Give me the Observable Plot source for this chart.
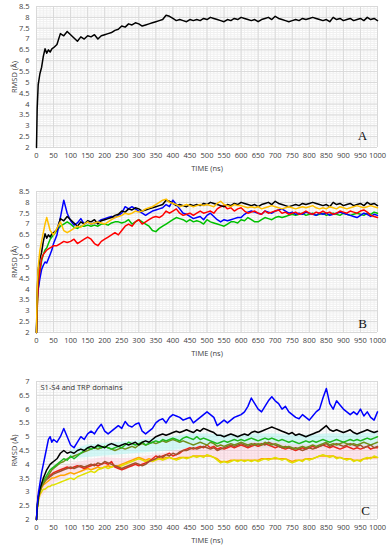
<!DOCTYPE html>
<html><head><meta charset="utf-8">
<script src="https://cdn.jsdelivr.net/npm/d3@7"></script>
<script src="https://cdn.jsdelivr.net/npm/@observablehq/plot@0.6"></script>
<style>body{margin:0;background:#fff;} #chart svg{display:block;}</style>
</head><body><div id="chart"></div><script>
// shared time axis (ns)
const time = [
  0,2,5,10,15,20,25,30,35,40,
  45,50,60,70,80,90,100,110,120,130,
  140,150,160,170,180,190,200,210,220,230,
  240,250,260,270,280,290,300,310,320,330,
  340,350,360,370,380,390,400,410,420,430,
  440,450,460,470,480,490,500,510,520,530,
  540,550,560,570,580,590,600,610,620,630,
  640,650,660,670,680,690,700,710,720,730,
  740,750,760,770,780,790,800,810,820,830,
  840,850,860,870,880,890,900,910,920,930,
  940,950,960,970,980,990,1000];

const xTicks = [0,50,100,150,200,250,300,350,400,450,500,550,600,650,700,750,800,850,900,950,1000];
const yTicksAB = [2,2.5,3,3.5,4,4.5,5,5.5,6,6.5,7,7.5,8,8.5];
const yTicksC = [2,2.5,3,3.5,4,4.5,5,5.5,6,6.5,7];

// Panel A
const aBlack = [
  2.0,3.8,4.9,5.4,5.7,6.2,6.55,6.35,6.5,6.4,
  6.55,6.6,6.75,7.25,7.15,7.35,7.2,7.05,6.9,7.1,
  7.0,7.15,7.1,7.2,7.0,7.15,7.2,7.25,7.3,7.4,
  7.45,7.6,7.55,7.7,7.65,7.75,7.7,7.6,7.65,7.7,
  7.75,7.8,7.85,7.9,8.1,8.05,7.95,7.85,7.9,7.85,
  7.8,7.9,7.85,7.9,7.85,7.95,7.9,8.0,7.95,7.9,
  7.85,7.8,7.9,7.85,7.95,7.9,8.0,7.95,7.9,7.85,
  7.9,7.8,7.9,7.95,8.0,7.9,8.05,7.95,7.9,7.85,
  7.8,7.85,7.9,7.85,7.95,7.9,7.95,8.0,7.95,7.9,
  7.85,7.9,7.8,8.0,7.9,7.95,7.85,7.9,7.95,7.85,
  7.9,7.95,7.85,8.0,7.9,7.95,7.85];

// Panel B
const bBlack = aBlack;
const bBlue = [
  2.0,3.5,4.0,4.5,4.9,5.1,5.25,5.2,5.4,5.6,
  5.8,6.1,6.5,7.3,8.1,7.5,7.15,6.95,7.05,7.25,
  7.0,7.1,7.0,7.05,7.1,7.2,7.25,7.3,7.35,7.3,
  7.4,7.5,7.8,7.7,7.8,7.7,7.6,7.5,7.4,7.5,
  7.6,7.65,7.7,7.75,7.9,7.8,8.1,7.9,7.7,7.5,
  7.45,7.35,7.25,7.3,7.35,7.2,7.4,7.5,7.35,7.2,
  7.1,7.2,7.15,7.2,7.25,7.3,7.3,7.45,7.55,7.6,
  7.55,7.5,7.45,7.6,7.55,7.5,7.6,7.65,7.7,7.6,
  7.5,7.55,7.45,7.5,7.45,7.55,7.5,7.45,7.4,7.5,
  7.45,7.5,7.4,7.45,7.5,7.55,7.5,7.45,7.4,7.35,
  7.3,7.4,7.5,7.45,7.35,7.45,7.4];
const bGreen = [
  2.0,3.2,4.0,4.8,5.3,5.6,5.8,5.9,6.1,6.3,
  6.4,6.5,6.7,6.9,7.0,7.1,7.0,6.85,6.8,6.9,
  6.9,6.95,6.9,6.95,6.9,7.0,7.0,6.95,7.05,7.1,
  7.1,7.05,7.1,7.2,7.0,7.1,7.2,7.1,7.0,6.9,
  6.7,6.65,6.8,6.9,7.0,7.1,7.2,7.3,7.25,7.2,
  7.1,7.2,7.1,7.15,7.1,7.0,7.2,7.1,7.05,7.0,
  6.95,6.9,7.0,7.1,7.1,7.05,7.2,7.15,7.3,7.2,
  7.1,7.1,7.2,7.3,7.25,7.2,7.3,7.35,7.3,7.35,
  7.4,7.45,7.4,7.45,7.5,7.4,7.45,7.5,7.4,7.45,
  7.5,7.4,7.45,7.5,7.45,7.4,7.5,7.45,7.4,7.45,
  7.5,7.45,7.4,7.5,7.45,7.55,7.5];
const bRed = [
  2.0,3.0,4.2,4.9,5.4,5.6,5.7,5.8,5.85,5.9,
  5.95,6.0,6.0,6.1,6.2,6.15,6.2,6.3,6.1,6.2,
  6.3,6.4,6.3,6.1,6.0,6.2,6.3,6.4,6.5,6.6,
  6.5,6.7,6.9,7.0,6.9,7.1,7.2,7.0,7.1,7.2,
  7.3,7.35,7.3,7.4,7.6,7.5,7.6,7.7,7.5,7.4,
  7.45,7.5,7.4,7.5,7.6,7.5,7.55,7.6,7.5,7.7,
  7.8,7.85,7.7,7.75,7.6,7.7,7.75,7.6,7.5,7.55,
  7.6,7.5,7.45,7.6,7.5,7.55,7.6,7.65,7.5,7.55,
  7.45,7.5,7.55,7.45,7.5,7.6,7.5,7.45,7.55,7.5,
  7.6,7.5,7.55,7.45,7.5,7.6,7.55,7.5,7.6,7.55,
  7.5,7.6,7.65,7.55,7.4,7.35,7.3];
const bGold = [
  2.0,4.0,5.0,5.8,6.2,6.6,7.0,7.3,7.0,6.7,
  6.6,6.5,6.8,7.1,6.7,6.6,6.7,6.8,6.9,6.85,
  7.0,7.1,7.0,7.05,7.1,7.05,7.0,7.1,7.2,7.3,
  7.35,7.4,7.5,7.45,7.5,7.6,7.55,7.6,7.7,7.75,
  7.8,7.9,8.0,8.1,8.15,8.0,7.95,7.9,7.8,7.85,
  7.9,7.85,7.8,7.85,7.9,7.85,7.9,7.85,7.8,7.95,
  8.05,7.9,7.85,7.8,7.9,7.85,7.85,7.8,7.75,7.8,
  7.75,7.8,7.7,7.75,7.8,7.85,7.8,7.75,7.7,7.75,
  7.8,7.75,7.7,7.75,7.8,7.75,7.8,7.85,7.75,7.7,
  7.75,7.7,7.8,7.75,7.7,7.8,7.75,7.7,7.75,7.8,
  7.85,7.8,7.75,7.8,7.85,7.8,7.75];

// Panel C
const cBlue = [
  2.0,2.5,2.9,3.3,3.7,4.0,4.3,4.6,4.9,5.0,
  4.8,4.9,4.8,5.0,5.3,5.0,4.7,4.6,4.8,5.0,
  4.9,5.1,5.2,5.1,5.3,5.45,5.2,5.1,5.2,5.3,
  5.4,5.3,5.55,5.4,5.35,5.45,5.5,5.2,5.1,5.2,
  5.3,5.5,5.6,5.65,5.5,5.7,5.8,5.75,5.7,5.6,
  5.65,5.7,5.5,5.6,5.7,5.8,5.9,5.8,5.7,5.4,
  5.5,5.6,5.5,5.6,5.7,5.75,5.8,5.9,6.1,6.4,
  6.2,6.0,5.9,6.1,6.3,6.45,6.3,6.2,6.0,6.1,
  5.9,5.8,5.7,5.65,5.8,5.7,5.6,5.75,5.9,6.0,
  6.4,6.75,6.2,6.0,6.3,6.15,6.0,5.9,5.8,5.9,
  5.8,6.0,5.75,5.9,5.7,5.6,5.9];
const cBlack = [
  2.0,2.4,2.8,3.1,3.3,3.5,3.65,3.8,3.9,4.0,
  4.05,4.1,4.2,4.4,4.5,4.4,4.45,4.4,4.5,4.55,
  4.5,4.6,4.65,4.6,4.7,4.65,4.6,4.7,4.75,4.7,
  4.65,4.7,4.75,4.7,4.75,4.8,4.7,4.8,4.85,4.8,
  4.9,5.0,5.05,5.1,5.05,5.1,5.15,5.2,5.15,5.2,
  5.25,5.2,5.15,5.25,5.2,5.3,5.25,5.2,5.15,5.05,
  5.05,5.0,5.05,5.1,5.05,5.0,5.05,5.1,5.05,5.15,
  5.2,5.15,5.2,5.25,5.3,5.35,5.3,5.25,5.2,5.15,
  5.1,5.15,5.05,5.1,5.05,5.0,5.05,5.1,5.15,5.2,
  5.3,5.4,5.25,5.2,5.25,5.2,5.15,5.2,5.25,5.15,
  5.1,5.15,5.2,5.25,5.2,5.15,5.2];
const cGreen = [
  2.0,2.4,2.8,3.1,3.3,3.4,3.5,3.6,3.7,3.8,
  3.85,3.9,4.0,4.1,4.2,4.15,4.3,4.2,4.3,4.4,
  4.5,4.6,4.55,4.6,4.65,4.6,4.65,4.6,4.55,4.6,
  4.65,4.6,4.7,4.8,4.75,4.7,4.75,4.8,4.7,4.75,
  4.8,4.85,4.8,4.9,4.85,4.9,4.95,4.9,4.85,4.95,
  5.0,4.95,4.9,5.0,4.9,4.95,4.9,4.85,4.8,4.75,
  4.8,4.85,4.8,4.85,4.9,4.85,4.9,4.85,4.9,4.95,
  4.9,4.85,4.9,4.95,4.9,4.95,4.9,4.85,4.9,4.85,
  4.8,4.85,4.8,4.75,4.8,4.85,4.8,4.85,4.8,4.85,
  4.9,4.85,4.8,4.85,4.9,4.85,4.8,4.85,4.9,4.85,
  4.9,4.85,4.9,4.95,4.9,4.95,5.0];
const cOlive = [
  2.0,2.4,2.8,3.0,3.2,3.3,3.4,3.5,3.6,3.7,
  3.8,3.85,3.95,4.05,4.1,4.2,4.25,4.3,4.35,4.4,
  4.45,4.5,4.55,4.6,4.55,4.6,4.65,4.6,4.55,4.5,
  4.55,4.6,4.55,4.6,4.65,4.6,4.7,4.75,4.7,4.75,
  4.8,4.75,4.8,4.85,4.8,4.85,4.9,4.85,4.8,4.85,
  4.8,4.75,4.7,4.75,4.8,4.75,4.7,4.8,4.75,4.65,
  4.7,4.65,4.7,4.75,4.7,4.75,4.8,4.75,4.7,4.75,
  4.7,4.75,4.7,4.8,4.75,4.7,4.75,4.7,4.65,4.6,
  4.65,4.6,4.55,4.6,4.65,4.6,4.65,4.7,4.65,4.7,
  4.75,4.8,4.7,4.75,4.7,4.75,4.8,4.75,4.7,4.75,
  4.7,4.75,4.8,4.75,4.7,4.75,4.8];
const cRed = [
  2.0,2.4,2.7,3.0,3.2,3.3,3.4,3.5,3.55,3.6,
  3.65,3.7,3.75,3.8,3.85,3.9,3.85,3.9,3.95,3.9,
  3.85,3.9,3.95,4.0,3.95,4.0,4.05,4.0,4.1,3.9,
  3.85,3.8,3.85,3.9,3.95,4.0,3.95,4.0,4.05,4.1,
  4.2,4.3,4.25,4.3,4.35,4.4,4.3,4.35,4.4,4.5,
  4.55,4.6,4.55,4.6,4.65,4.6,4.7,4.6,4.65,4.55,
  4.6,4.55,4.6,4.65,4.6,4.65,4.7,4.65,4.6,4.65,
  4.7,4.65,4.7,4.75,4.7,4.65,4.6,4.65,4.6,4.55,
  4.6,4.55,4.5,4.55,4.6,4.55,4.6,4.65,4.6,4.65,
  4.7,4.65,4.6,4.65,4.6,4.55,4.6,4.65,4.6,4.55,
  4.6,4.55,4.6,4.65,4.55,4.6,4.6];
const cBrown = [
  2.0,2.5,2.8,3.1,3.25,3.35,3.4,3.45,3.5,3.55,
  3.6,3.65,3.7,3.75,3.8,3.85,3.9,3.85,3.9,3.95,
  3.9,3.95,4.0,3.95,4.05,4.0,4.1,4.05,4.0,3.95,
  3.9,3.85,3.9,3.95,4.0,4.05,4.0,3.95,4.0,4.1,
  4.15,4.2,4.3,4.25,4.35,4.3,4.4,4.35,4.45,4.5,
  4.5,4.55,4.6,4.55,4.6,4.65,4.6,4.55,4.6,4.5,
  4.55,4.6,4.65,4.7,4.65,4.7,4.75,4.7,4.65,4.7,
  4.75,4.7,4.75,4.7,4.8,4.75,4.7,4.65,4.6,4.65,
  4.6,4.55,4.6,4.55,4.5,4.55,4.6,4.55,4.6,4.65,
  4.7,4.75,4.65,4.7,4.75,4.7,4.65,4.7,4.75,4.7,
  4.65,4.7,4.6,4.65,4.7,4.6,4.65];
const cYellow = [
  2.0,2.3,2.6,2.9,3.0,3.1,3.1,3.15,3.2,3.2,
  3.25,3.25,3.3,3.35,3.4,3.45,3.5,3.45,3.55,3.6,
  3.65,3.7,3.75,3.7,3.8,3.85,3.9,3.85,3.9,3.95,
  3.9,3.95,4.0,4.05,4.1,4.15,4.2,4.15,4.1,4.15,
  4.1,4.15,4.2,4.15,4.2,4.25,4.2,4.15,4.2,4.25,
  4.2,4.25,4.3,4.25,4.3,4.25,4.35,4.3,4.25,4.15,
  4.05,4.1,4.05,4.1,4.15,4.1,4.15,4.1,4.15,4.1,
  4.15,4.1,4.15,4.2,4.15,4.2,4.25,4.2,4.15,4.2,
  4.1,4.05,4.1,4.15,4.1,4.2,4.15,4.2,4.25,4.3,
  4.35,4.3,4.25,4.3,4.2,4.25,4.2,4.15,4.2,4.1,
  4.15,4.1,4.2,4.25,4.2,4.3,4.25];
const cOrange = [
  2.0,2.4,2.7,3.0,3.15,3.25,3.3,3.35,3.4,3.45,
  3.5,3.5,3.55,3.6,3.6,3.65,3.7,3.65,3.7,3.75,
  3.8,3.85,3.8,3.85,3.9,3.85,3.9,3.95,3.9,3.95,
  3.95,4.0,4.05,4.1,4.15,4.2,4.25,4.2,4.15,4.2,
  4.15,4.2,4.2,4.2,4.25,4.25,4.2,4.2,4.25,4.25,
  4.25,4.25,4.3,4.3,4.3,4.3,4.3,4.3,4.25,4.2,
  4.1,4.1,4.1,4.15,4.15,4.15,4.15,4.15,4.15,4.15,
  4.15,4.15,4.2,4.2,4.2,4.2,4.2,4.2,4.2,4.2,
  4.15,4.1,4.15,4.15,4.15,4.2,4.2,4.2,4.25,4.3,
  4.3,4.3,4.3,4.3,4.25,4.25,4.2,4.2,4.2,4.15,
  4.15,4.15,4.2,4.2,4.25,4.25,4.25];

// shaded ranges in panel C
const cyanT  = [100,150,200,250,300,350,400,450,500,550,600,650,700,750,800,850,900,950,1000];
const cyanLo = [4.2,4.25,4.3,4.35,4.4,4.45,4.5,4.55,4.6,4.6,4.6,4.6,4.6,4.55,4.55,4.6,4.6,4.6,4.6];
const cyanHi = [4.5,4.7,4.75,4.8,4.85,4.95,5.0,5.1,5.1,5.05,5.05,5.1,5.1,5.05,5.05,5.1,5.1,5.1,5.15];
const pinkT  = [0,50,100,150,200,250,300,350,400,450,500,550,600,650,700,750,800,850,900,950,1000];
const pinkLo = [2.6,3.3,3.6,3.75,3.85,3.85,3.95,4.05,4.15,4.2,4.25,4.15,4.15,4.15,4.2,4.15,4.15,4.2,4.2,4.15,4.15];
const pinkHi = [3.0,3.8,4.0,4.15,4.25,4.2,4.25,4.35,4.45,4.6,4.7,4.7,4.75,4.8,4.8,4.7,4.7,4.75,4.75,4.7,4.7];

const FONT = "'Open Sans', sans-serif";
const xMinor = d3.range(0, 1001, 10);

function rows(vals) { return time.map((t, i) => ({t, v: vals[i]})); }
function bandRows(ts, lo, hi) { return ts.map((t, i) => ({t, lo: lo[i], hi: hi[i]})); }

function panel({height, marginTop, marginBottom, yMax, yTicks, series, bands = [], letter, letterDx, letterDy, note}) {
  const yMinor = d3.range(2, yMax + 0.001, 0.1);
  const marks = [
    Plot.gridX(xMinor, {stroke: "#f0f0f0", strokeOpacity: 1}),
    Plot.gridY(yMinor, {stroke: "#f0f0f0", strokeOpacity: 1}),
    Plot.gridX(xTicks, {stroke: "#d9d9d9", strokeOpacity: 1}),
    Plot.gridY(yTicks, {stroke: "#d9d9d9", strokeOpacity: 1}),
    ...bands.map(b => Plot.areaY(b.data, {x: "t", y1: "lo", y2: "hi", fill: b.fill, fillOpacity: b.opacity})),
    ...series.map(s => Plot.line(rows(s.values), {x: "t", y: "v", stroke: s.color, strokeWidth: 1.5})),
    Plot.axisX(xTicks, {tickSize: 0, tickPadding: 5, tickFormat: d => String(d), label: null, fill: "#404040", fontSize: 7.5}),
    Plot.axisY(yTicks, {tickSize: 0, tickPadding: 7, tickFormat: d => String(d), label: null, fill: "#404040", fontSize: 7.5}),
    Plot.text(["TIME (ns)"], {frameAnchor: "bottom", dy: 21, textAnchor: "middle", lineAnchor: "middle", fontSize: 7.5, fill: "#404040"}),
    Plot.text(["RMSD (Å)"], {frameAnchor: "left", dx: -22, rotate: -90, textAnchor: "middle", lineAnchor: "middle", fontSize: 7.5, fill: "#404040"}),
    Plot.text([letter], {frameAnchor: "bottom-right", dx: letterDx, dy: letterDy, textAnchor: "middle", lineAnchor: "middle", fontSize: 13, fontFamily: "'Liberation Serif', 'DejaVu Serif', serif", fill: "#111"})
  ];
  if (note) marks.push(Plot.text([note], {frameAnchor: "top-left", dx: 4, dy: 6, textAnchor: "start", lineAnchor: "middle", fontSize: 7.5, fill: "#333"}));
  return Plot.plot({
    width: 390, height, marginTop, marginBottom, marginLeft: 36, marginRight: 13,
    style: {fontFamily: FONT, background: "#fff"},
    x: {domain: [0, 1000]},
    y: {domain: [2, yMax]},
    marks
  });
}

const root = document.getElementById("chart");
root.append(panel({
  height: 180, marginTop: 6, marginBottom: 33, yMax: 8.5, yTicks: yTicksAB,
  series: [{values: aBlack, color: "#000"}],
  letter: "A", letterDx: -15, letterDy: -12
}));
root.append(panel({
  height: 180, marginTop: 11, marginBottom: 28, yMax: 8.5, yTicks: yTicksAB,
  series: [
    {values: bGreen, color: "#00c000"},
    {values: bBlue, color: "#0000ff"},
    {values: bRed, color: "#ff0000"},
    {values: bBlack, color: "#000"},
    {values: bGold, color: "#ffc000"}
  ],
  letter: "B", letterDx: -15, letterDy: -9
}));
root.append(panel({
  height: 190, marginTop: 21, marginBottom: 31, yMax: 7, yTicks: yTicksC,
  bands: [
    {data: bandRows(cyanT, cyanLo, cyanHi), fill: "#b8f5f2", opacity: 0.6},
    {data: bandRows(pinkT, pinkLo, pinkHi), fill: "#ffc8d8", opacity: 0.45}
  ],
  series: [
    {values: cOrange, color: "#ffa500"},
    {values: cYellow, color: "#e0e000"},
    {values: cRed, color: "#e8261a"},
    {values: cBrown, color: "#a0522d"},
    {values: cOlive, color: "#6f8f1a"},
    {values: cGreen, color: "#1fb81f"},
    {values: cBlack, color: "#000"},
    {values: cBlue, color: "#0000ff"}
  ],
  letter: "C", letterDx: -12, letterDy: -9,
  note: "S1-S4 and TRP domains"
}));
</script></body></html>
